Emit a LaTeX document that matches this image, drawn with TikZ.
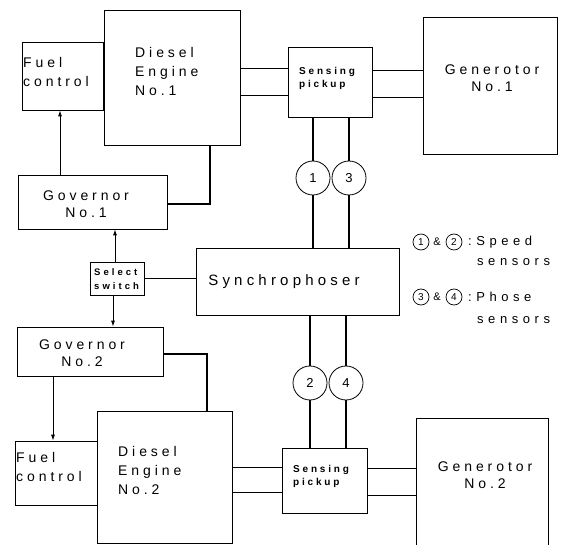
\documentclass[tikz,border=0pt]{standalone}
\usepackage{fontspec}
\setmainfont{Liberation Sans}
\newfontfamily\wide[LetterSpace=28]{Liberation Sans}
\newfontfamily\smallsp[LetterSpace=28]{Liberation Sans}
\newfontfamily\swsp[LetterSpace=32]{Liberation Sans}
\newfontfamily\legsp[LetterSpace=35]{Liberation Sans}
\usetikzlibrary{arrows.meta,fit}
\begin{document}
\begin{tikzpicture}[x=1pt,y=-1pt,
  box/.style={draw,line width=0.8pt,inner sep=0pt},
  wire/.style={line width=0.8pt},
  sig/.style={line width=1.3pt},
  arr/.style={line width=0.8pt,-{Latex[length=6pt,width=4pt]}},
  sens/.style={draw,circle,line width=0.8pt,minimum size=34pt,inner sep=0pt,font=\fontsize{13}{13}\selectfont},
  lsens/.style={draw,circle,line width=0.7pt,minimum size=16pt,inner sep=0pt,font=\fontsize{10}{10}\selectfont},
  lbl/.style={inner sep=0pt,align=left,font=\wide\fontsize{14}{19}\selectfont},
  lblc/.style={inner sep=0pt,align=center,font=\wide\fontsize{14}{17}\selectfont},
  small/.style={inner sep=0pt,align=left,font=\smallsp\bfseries\fontsize{10}{13}\selectfont},
  leg/.style={inner sep=0pt,anchor=west,font=\legsp\fontsize{13}{13}\selectfont}
]
\clip (0,0) rectangle (562,545);
\fill[white] (0,0) rectangle (562,545);

% boxes
\node[box,fit={(22,42) (103,110)}] (fc1) {};
\node[box,fit={(104,10) (240,145)}] (de1) {};
\node[box,fit={(288,47) (372,117)}] (sp1) {};
\node[box,fit={(423,17) (557,154)}] (gen1) {};
\node[box,fit={(18,175) (167,229)}] (gov1) {};
\node[box,fit={(90,262) (144,295)}] (sw) {};
\node[box,fit={(196,248) (399,315)}] (syn) {};
\node[box,fit={(17,327) (163,376)}] (gov2) {};
\node[box,fit={(15,441) (97,505)}] (fc2) {};
\node[box,fit={(97,411) (232,543)}] (de2) {};
\node[box,fit={(282,448) (367,513)}] (sp2) {};
\node[box,fit={(416,418) (548,560)}] (gen2) {};

% texts
\node[lbl,anchor=west] (tfc1) at (23,72) {Fuel\\control};
\node[lbl,anchor=west] (tde1) at (135,71) {Diesel\\Engine\\No.1};
\node[small,anchor=west] (tsp1) at (299,78.5) {Sensing\\pickup};
\node[lblc] (tgen1) at (492,78) {Generotor\\No.1};
\node[lblc] (tgov1) at (86,204) {Governor\\No.1};
\node[small,anchor=west,font=\swsp\bfseries\fontsize{9.5}{14}\selectfont] (tsw) at (94,279.5) {Select\\switch};
\node[lblc,font=\wide\fontsize{15}{17}\selectfont] (tsyn) at (284,282) {Synchrophoser};
\node[lblc] (tgov2) at (82,353.5) {Governor\\No.2};
\node[lbl,anchor=west] (tfc2) at (16,467) {Fuel\\control};
\node[lbl,anchor=west] (tde2) at (118,470) {Diesel\\Engine\\No.2};
\node[small,anchor=west] (tsp2) at (293,476) {Sensing\\pickup};
\node[lblc] (tgen2) at (485,475) {Generotor\\No.2};

% sensor circles
\node[sens] (c1) at (313,178) {1};
\node[sens] (c3) at (349,178) {3};
\node[sens] (c2) at (310,383) {2};
\node[sens] (c4) at (346,383) {4};

% legend
\node[lsens] (l1) at (421,242) {1};
\node[inner sep=0pt,font=\fontsize{11}{11}\selectfont] (la1) at (437,242) {\&};
\node[lsens] (l2) at (454,242) {2};
\node[leg] (lt1) at (468,242) {:Speed};
\node[leg] (lt2) at (477,262) {sensors};
\node[lsens] (l3) at (421,297) {3};
\node[inner sep=0pt,font=\fontsize{11}{11}\selectfont] (la2) at (437,297) {\&};
\node[lsens] (l4) at (454,297) {4};
\node[leg] (lt3) at (468,297) {:Phose};
\node[leg] (lt4) at (477,320) {sensors};

% engine 1 - pickup 1 - generator 1
\draw[wire] (de1.east |- 0,68) -- (sp1.west |- 0,68);
\draw[wire] (de1.east |- 0,95) -- (sp1.west |- 0,95);
\draw[wire] (sp1.east |- 0,70) -- (gen1.west |- 0,70);
\draw[wire] (sp1.east |- 0,97) -- (gen1.west |- 0,97);

% engine 2 - pickup 2 - generator 2
\draw[wire] (de2.east |- 0,467) -- (sp2.west |- 0,467);
\draw[wire] (de2.east |- 0,492) -- (sp2.west |- 0,492);
\draw[wire] (sp2.east |- 0,468) -- (gen2.west |- 0,468);
\draw[wire] (sp2.east |- 0,495) -- (gen2.west |- 0,495);

% sensor lines
\draw[sig] (sp1.south -| c1.north) -- (c1.north);
\draw[sig] (c1.south) -- (c1.south |- syn.north);
\draw[sig] (sp1.south -| c3.north) -- (c3.north);
\draw[sig] (c3.south) -- (c3.south |- syn.north);
\draw[sig] (syn.south -| c2.north) -- (c2.north);
\draw[sig] (c2.south) -- (c2.south |- sp2.north);
\draw[sig] (syn.south -| c4.north) -- (c4.north);
\draw[sig] (c4.south) -- (c4.south |- sp2.north);

% governors, engines, fuel controls
\draw[sig] (gov1.east |- 0,204) -| (de1.south -| 210,0);
\draw[arr] (gov1.north -| 60,0) -- (fc1.south -| 60,0);
\draw[sig] (gov2.east |- 0,354) -| (de2.north -| 207,0);
\draw[arr] (gov2.south -| 53,0) -- (fc2.north -| 53,0);

% select switch
\draw[arr] (sw.north -| 115,0) -- (gov1.south -| 115,0);
\draw[arr] (sw.south -| 113,0) -- (gov2.north -| 113,0);
\draw[wire] (sw.east) -- (sw.east -| syn.west);
\end{tikzpicture}
\end{document}
